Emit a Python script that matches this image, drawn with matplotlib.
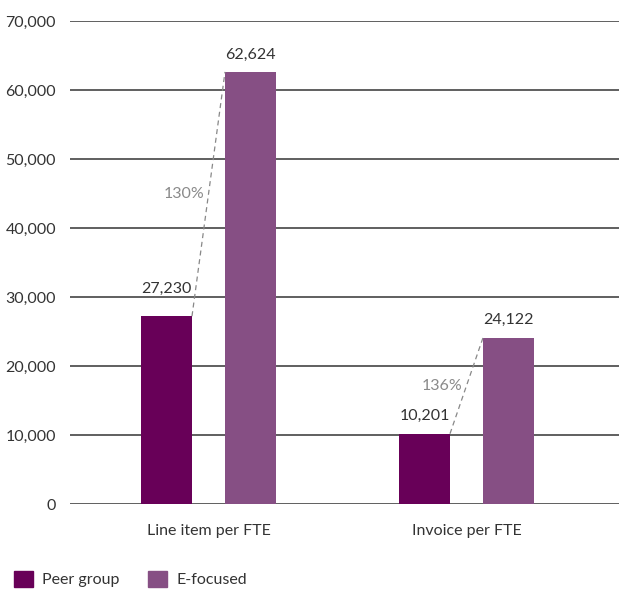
import matplotlib.pyplot as plt
from matplotlib.patches import Patch
from matplotlib.ticker import FuncFormatter

categories = ['Line item per FTE', 'Invoice per FTE']
peer_group = [27230, 10201]
e_focused = [62624, 24122]
pct_labels = ['130%', '136%']

peer_color = '#680058'
efoc_color = '#864f84'
text_color = '#333333'

plt.rcParams['font.family'] = ['Lato', 'DejaVu Sans']

fig = plt.figure(figsize=(6.19, 5.91), dpi=100)
ax = fig.add_axes([0.113, 0.147, 0.887, 0.8175])

x = range(len(categories))
w = 0.198
off = 0.163
xp = [i - off for i in x]
xe = [i + off for i in x]

ax.bar(xp, peer_group, width=w, color=peer_color, zorder=3)
ax.bar(xe, e_focused, width=w, color=efoc_color, zorder=3)

# the first peer label sits higher so the dashed line does not cross it
peer_lift = [3000, 1500]
for i in x:
    ax.text(xp[i], peer_group[i] + peer_lift[i], f'{peer_group[i]:,}', ha='center', va='bottom',
            fontsize=11.5, color=text_color)
    ax.text(xe[i], e_focused[i] + 1500, f'{e_focused[i]:,}', ha='center', va='bottom',
            fontsize=11.5, color=text_color)
    x0, x1 = xp[i] + w / 2, xe[i] - w / 2
    ax.plot([x0, x1], [peer_group[i], e_focused[i]], ls=(0, (4, 3)), color='#888888',
            lw=0.9, zorder=4)
    ym = (peer_group[i] + e_focused[i]) / 2
    ax.text((x0 + x1) / 2 - 0.015, ym, pct_labels[i], ha='right', va='center',
            fontsize=11.5, color='#8a8a8a')

ax.set_ylim(0, 70000)
ax.set_xlim(-0.537, 1.591)
ax.set_yticks(range(0, 70001, 10000))
ax.yaxis.set_major_formatter(FuncFormatter(lambda v, p: f'{int(v):,}'))
ax.grid(axis='y', color='#444444', lw=1.2, zorder=0)
ax.set_xticks(list(x))
ax.set_xticklabels(categories)
ax.tick_params(length=0, labelsize=11.5, colors=text_color, pad=10)
ax.tick_params(axis='x', pad=14)
for s in ax.spines.values():
    s.set_visible(False)

handles = [Patch(color=peer_color, label='Peer group'), Patch(color=efoc_color, label='E-focused')]
fig.legend(handles=handles, loc='center left', bbox_to_anchor=(14 / 619, 12 / 591), ncol=2,
           frameon=False, fontsize=11.5, handlelength=1.2, handleheight=1.15, columnspacing=1.8,
           handletextpad=0.55, borderpad=0, borderaxespad=0, labelcolor=text_color)

fig.savefig('out.png', dpi=100)
